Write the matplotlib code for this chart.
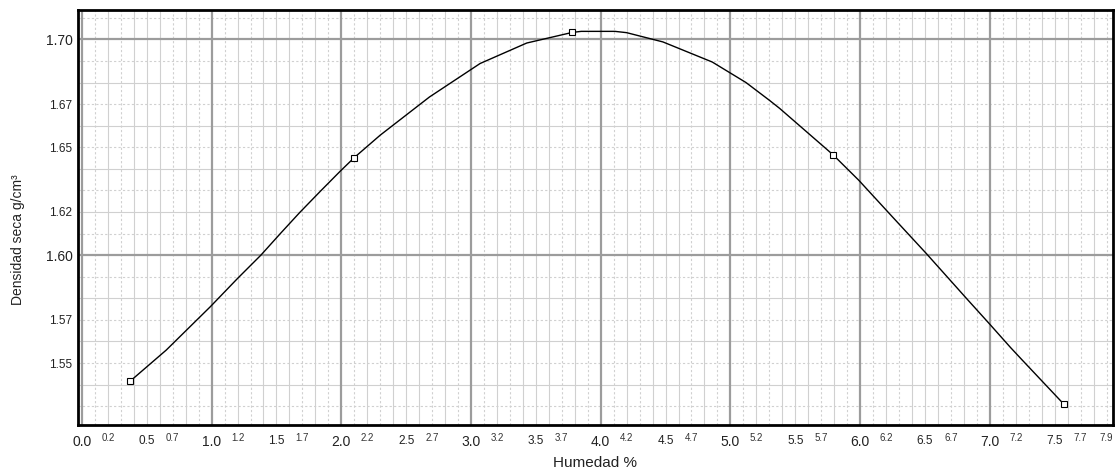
import numpy as np
import matplotlib.pyplot as plt

plt.rcParams['font.family'] = ['Liberation Sans', 'DejaVu Sans']

# puntos del ensayo (marcadores)
humedad = [0.37, 2.10, 3.78, 5.79, 7.57]
densidad = [1.5415, 1.6452, 1.7032, 1.6466, 1.5310]

# curva de compactación
curva_x = [0.37, 0.65, 0.99, 1.20, 1.38, 1.53, 1.68, 1.84, 1.99, 2.10, 2.30, 2.68,
           3.07, 3.43, 3.78, 3.85, 4.11, 4.20, 4.48, 4.86, 5.12, 5.30, 5.38,
           5.79, 5.99, 6.25, 6.51, 6.76, 6.83, 7.00, 7.16, 7.25, 7.57]
curva_y = [1.5415, 1.5560, 1.5761, 1.5892, 1.6000, 1.6100, 1.6198, 1.6297, 1.6388,
           1.6452, 1.6556, 1.6733, 1.6888, 1.6983, 1.7032, 1.7037, 1.7037,
           1.7031, 1.6988, 1.6895, 1.6800, 1.6718, 1.6680, 1.6466, 1.6347,
           1.6177, 1.6008, 1.5840, 1.5793, 1.5680, 1.5572, 1.5514, 1.5310]

# etiquetas de los ejes
xt_mayor = [0.0, 0.5, 1.0, 1.5, 2.0, 2.5, 3.0, 3.5, 4.0, 4.5, 5.0, 5.5, 6.0, 6.5, 7.0, 7.5]
xt_menor = [0.2, 0.7, 1.2, 1.7, 2.2, 2.7, 3.2, 3.7, 4.2, 4.7, 5.2, 5.7, 6.2, 6.7, 7.2, 7.7, 7.9]
yt = [1.70, 1.67, 1.65, 1.62, 1.60, 1.57, 1.55]

fig = plt.figure(figsize=(11.19, 4.70), dpi=100)
ax = fig.add_axes([78 / 1119, 1 - 425 / 470, (1113 - 78) / 1119, (425 - 10) / 470])

xmin, xmax = -0.03, 7.95
ymin, ymax = 1.5213, 1.7136
ax.set_xlim(xmin, xmax)
ax.set_ylim(ymin, ymax)

# cuadrícula
gris_claro = '#d0d0d0'
gris_fuerte = '#9c9c9c'
for i in range(0, 80):
    x = i / 10
    if x < xmin or x > xmax:
        continue
    if i % 10 == 0:
        ax.axvline(x, color=gris_fuerte, lw=1.6, zorder=1)
    elif i % 2 == 0 or i % 5 == 0:
        ax.axvline(x, color=gris_claro, lw=0.8, zorder=0)
    else:
        ax.axvline(x, color=gris_claro, lw=0.8, ls=(0, (2, 2)), zorder=0)

for j in range(152, 172):
    y = j / 100
    if y < ymin or y > ymax:
        continue
    if j % 10 == 0:
        ax.axhline(y, color=gris_fuerte, lw=1.6, zorder=1)
    elif j % 2 == 0:
        ax.axhline(y, color=gris_claro, lw=0.8, zorder=0)
    else:
        ax.axhline(y, color=gris_claro, lw=0.8, ls=(0, (2, 2)), zorder=0)

# curva y puntos
ax.plot(curva_x, curva_y, color='black', lw=1.0, zorder=3)
ax.plot(humedad, densidad, ls='none', marker='s', ms=3.8, mfc='white',
        mec='black', mew=0.8, zorder=4)

# ticks
ax.set_xticks(xt_mayor)
ax.set_xticklabels([f'{v:.1f}' for v in xt_mayor])
ax.set_xticks(xt_menor, minor=True)
ax.set_xticklabels([f'{v:.1f}' for v in xt_menor], minor=True)
ax.set_yticks(yt)
ax.set_yticklabels([f'{v:.2f}' for v in yt])

ax.tick_params(axis='x', which='major', length=0, pad=7, colors='#222222')
ax.tick_params(axis='x', which='minor', length=0, pad=5.5, colors='#333333', labelsize=7)
ax.tick_params(axis='y', length=0, pad=4, colors='#222222')

for lab, v in zip(ax.get_xticklabels(), xt_mayor):
    lab.set_fontsize(10 if v == int(v) else 8.5)
    lab.set_horizontalalignment('center')
for lab, v in zip(ax.get_yticklabels(), yt):
    lab.set_fontsize(10 if round(v * 100) % 10 == 0 else 8.5)

for s in ax.spines.values():
    s.set_linewidth(2)
    s.set_color('black')

fig.text(595 / 1119, 1 - 463 / 470, 'Humedad %', ha='center', va='center',
         fontsize=11, color='#222222')
fig.text(18 / 1119, 1 - 240 / 470, 'Densidad seca g/cm³', ha='center', va='center',
         rotation=90, fontsize=10, color='#222222')

fig.savefig('out.png', dpi=100)
